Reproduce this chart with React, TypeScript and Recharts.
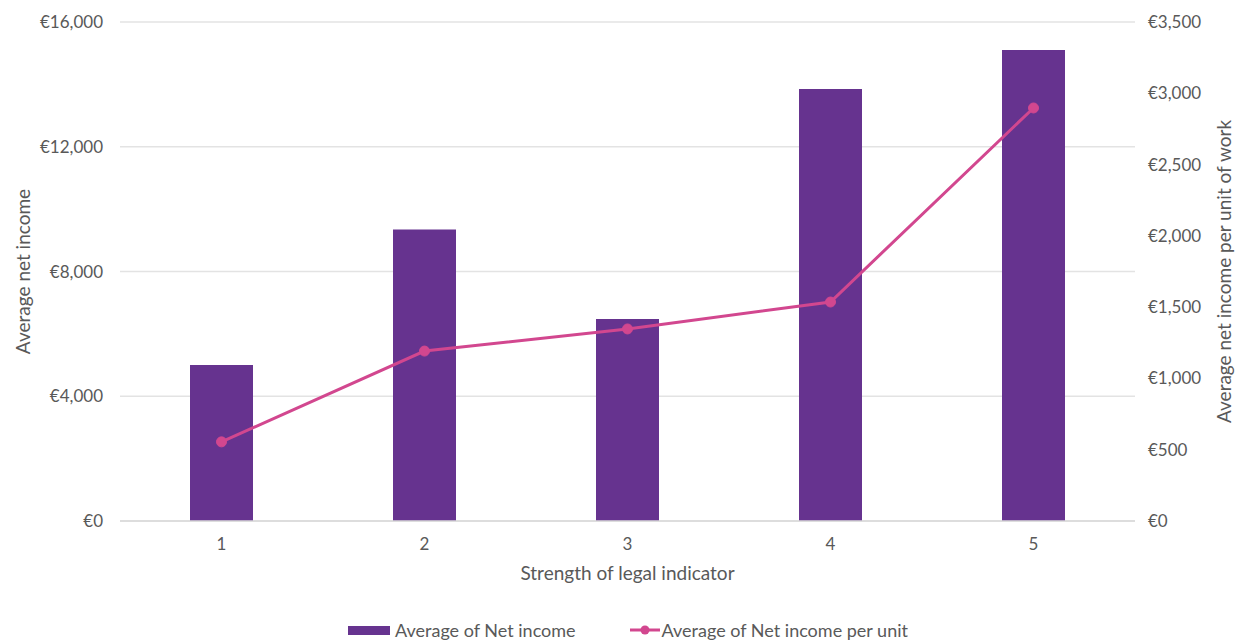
import {
  Bar,
  CartesianGrid,
  ComposedChart,
  Legend,
  Line,
  XAxis,
  YAxis,
} from "recharts"

// values
const categories = ["1", "2", "3", "4", "5"]
const netIncome = [5000, 9350, 6480, 13850, 15100]
const netIncomePerUnit = [555, 1192, 1347, 1536, 2897]
const leftTicks = [0, 4000, 8000, 12000, 16000]
const rightTicks = [0, 500, 1000, 1500, 2000, 2500, 3000, 3500]

const data = categories.map((name, i) => ({
  name,
  income: netIncome[i],
  perUnit: netIncomePerUnit[i],
}))

const PURPLE = "#66338f"
const PINK = "#d2478f"
const TEXT = "#595959"
const FONT = "Lato, 'Open Sans', sans-serif"

const euro = (v: number) => `€${v.toLocaleString("en-US")}`

function LegendContent() {
  return (
    <div
      style={{
        display: "flex",
        justifyContent: "center",
        alignItems: "center",
        gap: 54,
        fontFamily: FONT,
        fontSize: 18,
        color: TEXT,
        height: 24,
        paddingLeft: 8,
      }}
    >
      <span style={{ display: "flex", alignItems: "center" }}>
        <svg width={44} height={12} style={{ marginRight: 3 }}>
          <rect x={0} y={2} width={42} height={9} fill={PURPLE} />
        </svg>
        Average of Net income
      </span>
      <span style={{ display: "flex", alignItems: "center" }}>
        <svg width={30} height={12} style={{ marginRight: 2 }}>
          <line x1={0} y1={6} x2={30} y2={6} stroke={PINK} strokeWidth={3} />
          <circle cx={15} cy={6} r={4.5} fill={PINK} />
        </svg>
        Average of Net income per unit
      </span>
    </div>
  )
}

export default function App() {
  return (
    <div style={{ position: "absolute", left: 0, top: 0, background: "#fff" }}>
      <ComposedChart
        width={1248}
        height={642}
        data={data}
        margin={{ top: 22, right: 0, bottom: 0, left: 0 }}
        barCategoryGap={0}
      >
        <CartesianGrid yAxisId="left" vertical={false} stroke="#e3e3e3" strokeWidth={1.5} />
        <XAxis
          dataKey="name"
          height={97}
          axisLine={{ stroke: "#d9d9d9", strokeWidth: 1.5 }}
          tickLine={false}
          tickMargin={11}
          tick={{ fill: TEXT, fontSize: 17, fontFamily: FONT }}
          label={{
            value: "Strength of legal indicator",
            position: "insideTop",
            offset: 46,
            fill: TEXT,
            fontSize: 19,
            fontFamily: FONT,
          }}
        />
        <YAxis
          yAxisId="left"
          width={120}
          domain={[0, 16000]}
          ticks={leftTicks}
          tickFormatter={euro}
          axisLine={false}
          tickLine={false}
          tickMargin={11}
          tick={{ fill: TEXT, fontSize: 17, fontFamily: FONT }}
          label={{
            value: "Average net income",
            angle: -90,
            position: "insideLeft",
            offset: 23,
            style: { textAnchor: "middle" },
            fill: TEXT,
            fontSize: 19,
            fontFamily: FONT,
          }}
        />
        <YAxis
          yAxisId="right"
          orientation="right"
          width={113}
          domain={[0, 3500]}
          ticks={rightTicks}
          tickFormatter={euro}
          axisLine={false}
          tickLine={false}
          tickMargin={7}
          tick={{ fill: TEXT, fontSize: 17, fontFamily: FONT }}
          label={{
            value: "Average net income per unit of work",
            angle: -90,
            position: "insideRight",
            offset: 24,
            style: { textAnchor: "middle" },
            fill: TEXT,
            fontSize: 19,
            fontFamily: FONT,
          }}
        />
        <Legend verticalAlign="bottom" content={<LegendContent />} />
        <Bar
          yAxisId="left"
          dataKey="income"
          name="Average of Net income"
          fill={PURPLE}
          barSize={63}
          isAnimationActive={false}
        />
        <Line
          yAxisId="right"
          dataKey="perUnit"
          name="Average of Net income per unit"
          type="linear"
          stroke={PINK}
          strokeWidth={3}
          dot={{ r: 5, fill: PINK, stroke: PINK, strokeWidth: 1 }}
          activeDot={false}
          isAnimationActive={false}
        />
      </ComposedChart>
    </div>
  )
}
